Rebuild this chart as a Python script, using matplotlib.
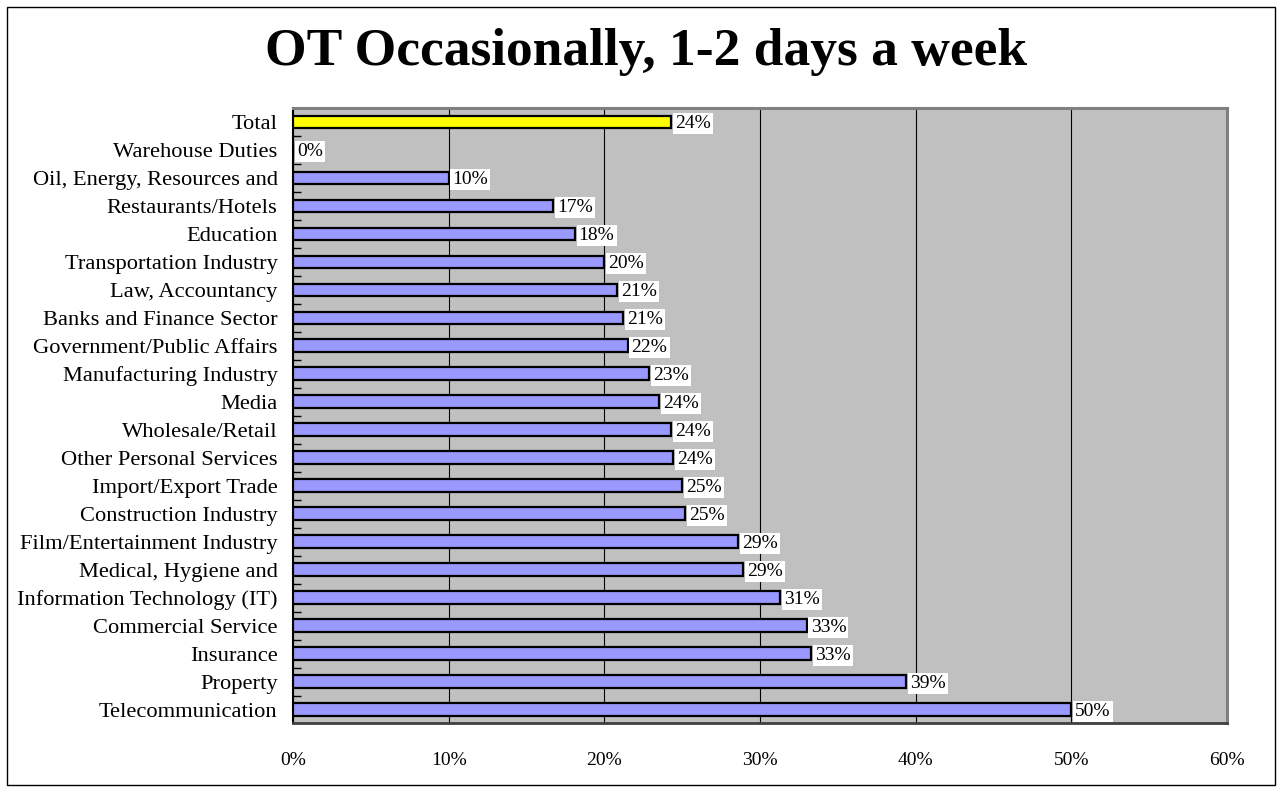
import matplotlib
matplotlib.use("Agg")
import matplotlib.pyplot as plt
from matplotlib.patches import Rectangle
from matplotlib.ticker import FixedLocator, PercentFormatter

categories = [
    "Total", "Warehouse Duties", "Oil, Energy, Resources and", "Restaurants/Hotels",
    "Education", "Transportation Industry", "Law, Accountancy", "Banks and Finance Sector",
    "Government/Public Affairs", "Manufacturing Industry", "Media", "Wholesale/Retail",
    "Other Personal Services", "Import/Export Trade", "Construction Industry",
    "Film/Entertainment Industry", "Medical, Hygiene and", "Information Technology (IT)",
    "Commercial Service", "Insurance", "Property", "Telecommunication",
]
values = [24.3, 0.0, 10.0, 16.7, 18.1, 20.0, 20.8, 21.2, 21.5, 22.9, 23.5, 24.3,
          24.4, 25.0, 25.2, 28.6, 28.9, 31.3, 33.0, 33.3, 39.4, 50.0]
x_ticks = [0, 10, 20, 30, 40, 50, 60]
title = "OT Occasionally, 1-2 days a week"

plt.rcParams['font.family'] = ['Liberation Serif', 'DejaVu Serif']

fig = plt.figure(figsize=(12.81, 7.92), dpi=100)
fig.patches.append(Rectangle((7/1281, 7/792), 1268/1281, 778/792, transform=fig.transFigure,
                             fill=False, edgecolor='black', linewidth=1.0))
ax = fig.add_axes([293/1281, (792-723)/792, (1227-293)/1281, (723-108)/792])
ax.set_facecolor('#C0C0C0')

pos = list(range(len(categories)))
colors = ['#FFFF00'] + ['#9999FF'] * (len(categories) - 1)
ax.barh(pos, values, height=0.46, color=colors, edgecolor='black', linewidth=1.6, zorder=3)

for p, v in zip(pos, values):
    ax.text(v + 0.25, p + 0.05, f"{round(v):d}%", va='center', ha='left', fontsize=14,
            zorder=4, bbox=dict(facecolor='white', edgecolor='none', pad=1.5))

ax.set_xlim(0, 60)
ax.set_ylim(21.47, -0.5)
ax.xaxis.set_major_locator(FixedLocator(x_ticks))
ax.xaxis.set_major_formatter(PercentFormatter(decimals=0))
ax.grid(axis='x', color='black', linewidth=0.8, zorder=1)
ax.tick_params(axis='x', length=0, pad=21, labelsize=14)

ax.set_yticks(pos)
ax.set_yticklabels(categories, fontsize=16.2)
ax.set_yticks([p + 0.5 for p in pos[:-1]], minor=True)
ax.tick_params(axis='y', which='major', length=0, pad=11)
ax.tick_params(axis='y', which='minor', length=6, width=1, direction='in', color='black')

ax.spines['left'].set_color('black')
ax.spines['left'].set_linewidth(1.5)
ax.spines['bottom'].set_color('#404040')
ax.spines['bottom'].set_linewidth(2)
ax.spines['top'].set_color('#808080')
ax.spines['top'].set_linewidth(2.2)
ax.spines['right'].set_color('#808080')
ax.spines['right'].set_linewidth(2.2)

fig.text(646/1281, 1 - 52/792, title, ha='center', va='center', fontsize=38.5, fontweight='bold')

fig.savefig("out.png", dpi=100)
